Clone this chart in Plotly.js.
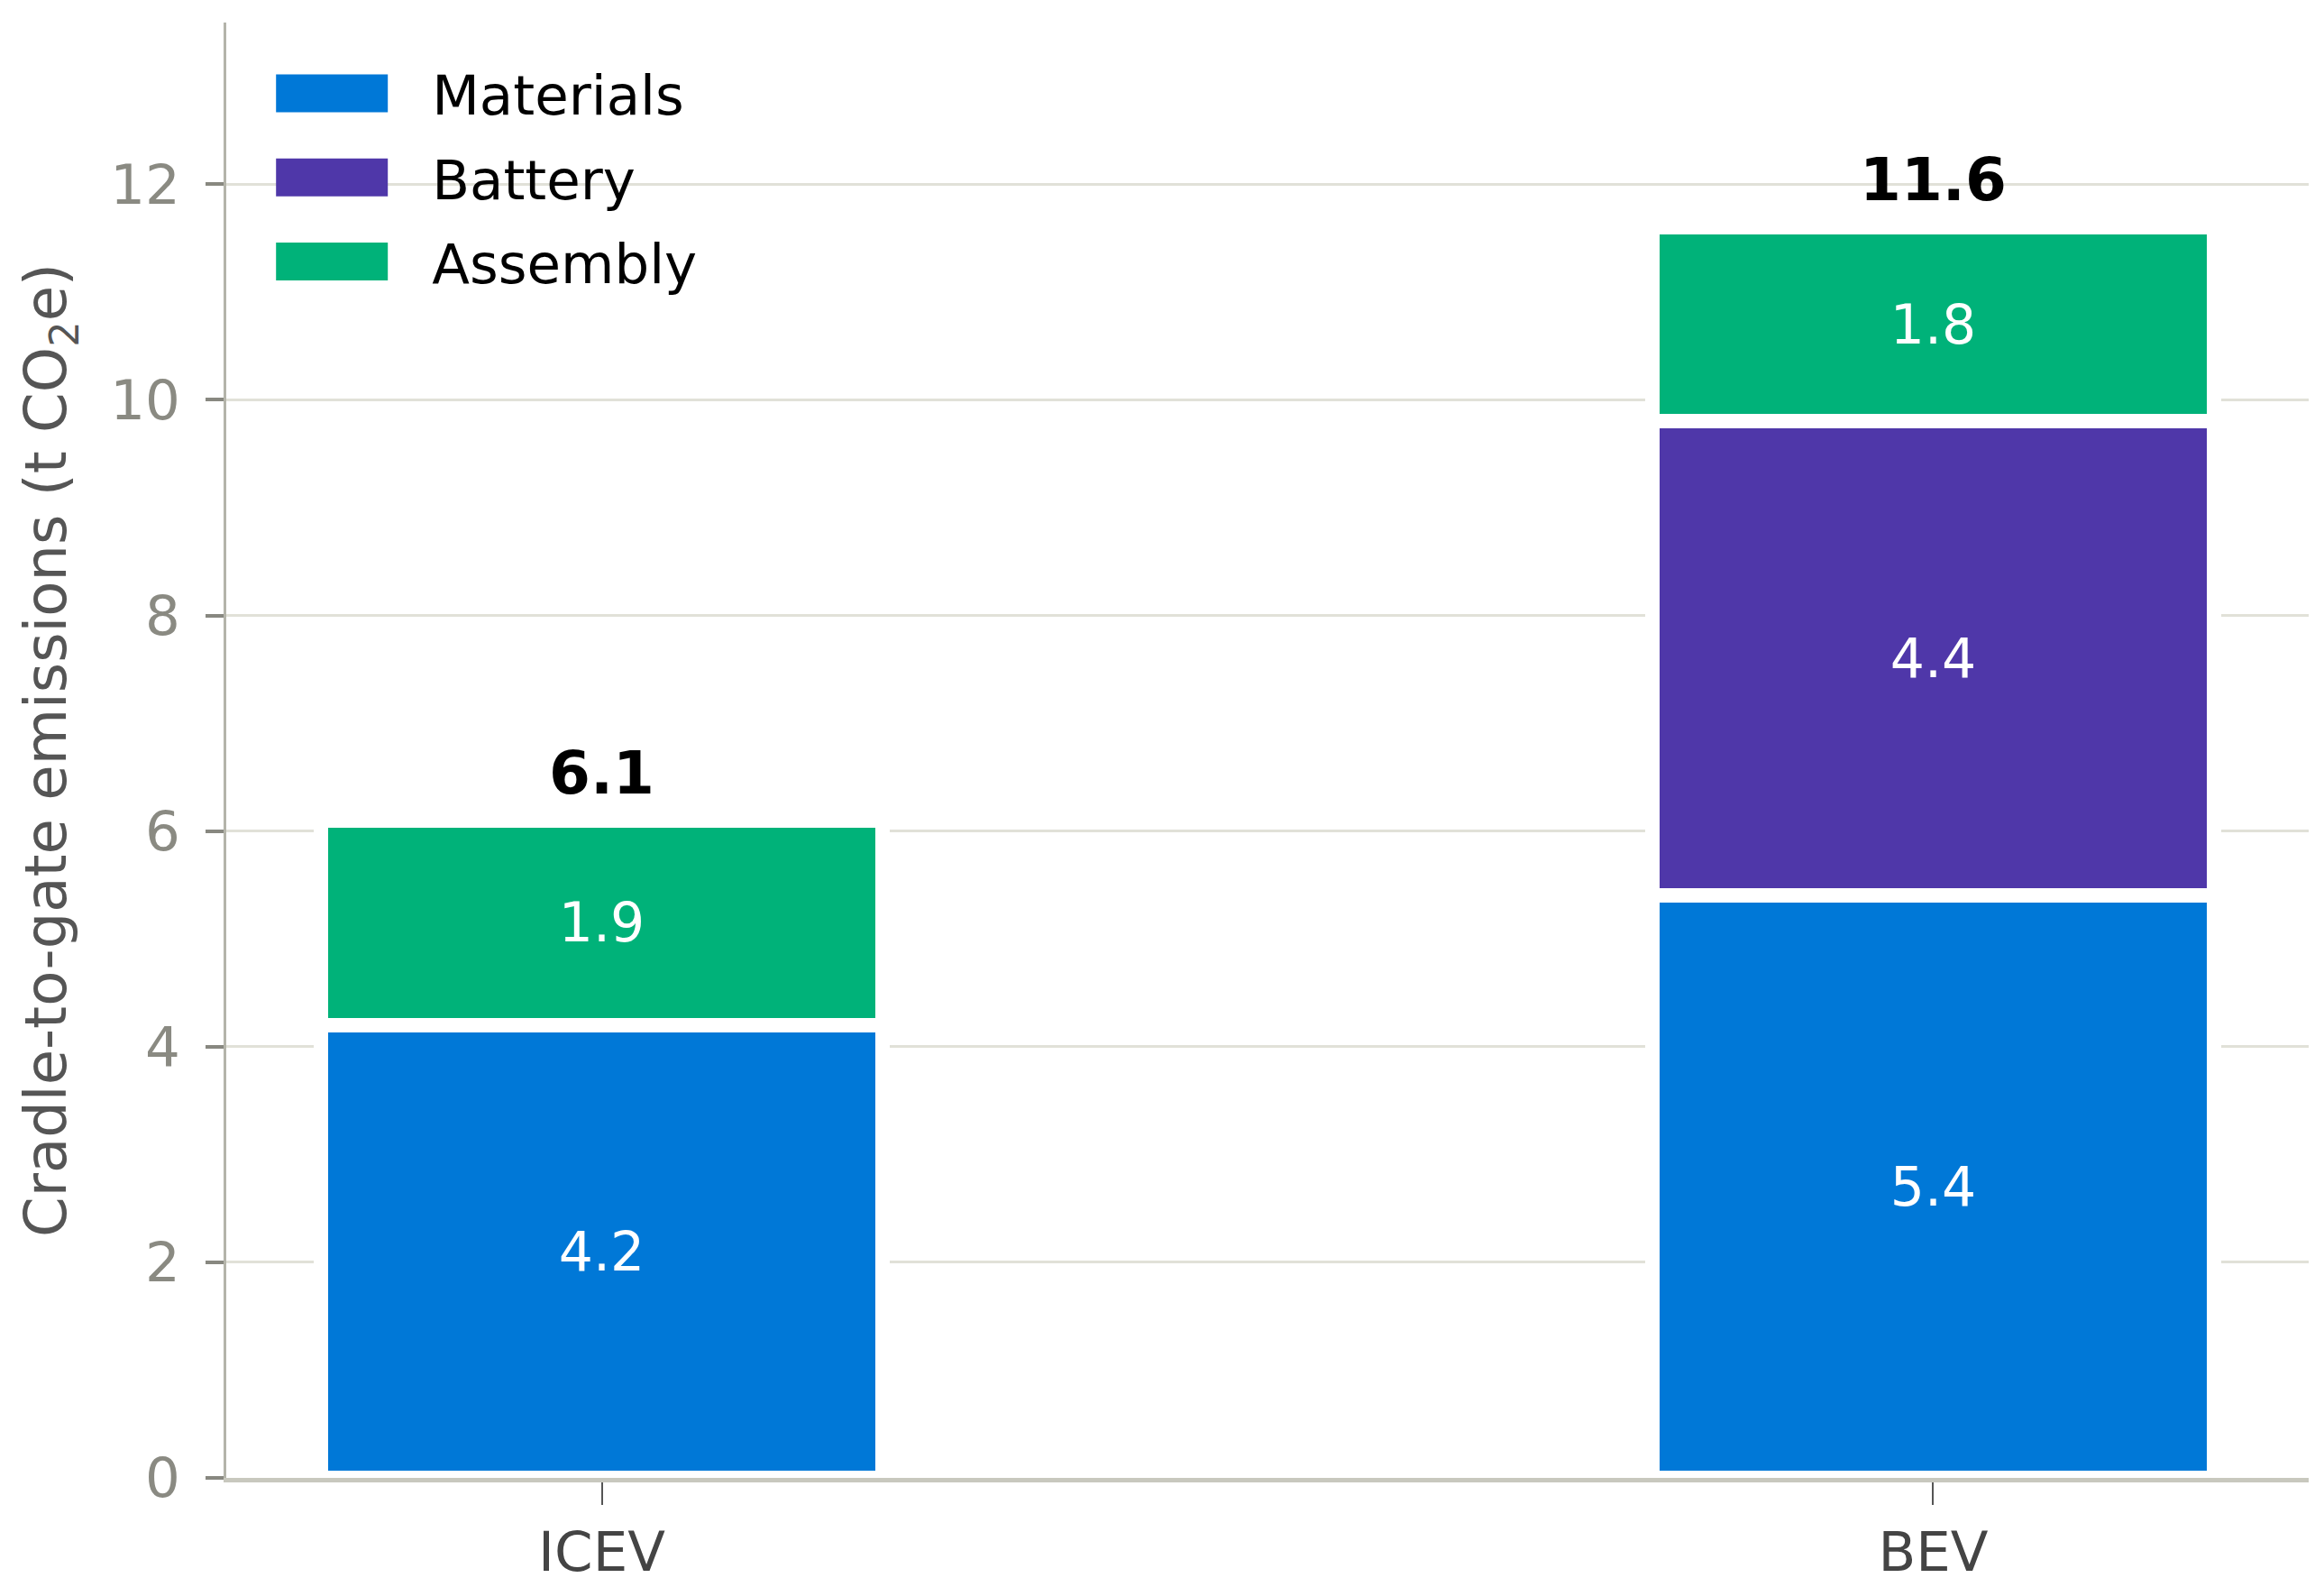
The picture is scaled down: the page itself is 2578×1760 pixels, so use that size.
<!DOCTYPE html>
<html>
<head>
<meta charset="utf-8">
<script src="https://cdn.plot.ly/plotly-3.0.1.min.js"></script>
<style>
  html, body { margin: 0; padding: 0; background: #fff; }
  #chart { width: 2578px; height: 1760px; }
</style>
</head>
<body>
<div id="chart"></div>
<script>
// vehicles on the x axis
var vehicles = ["ICEV", "BEV"];

// cradle-to-gate emissions, t CO2e
var materials = [4.2, 5.4];
var battery = [null, 4.4];
var assembly = [1.9, 1.8];

var seriesNames = ["Materials", "Battery", "Assembly"];
var seriesColors = ["#0078d7", "#4f37a9", "#00b279"];

var yTicks = [0, 2, 4, 6, 8, 10, 12];

var totals = vehicles.map(function (v, i) {
  return (materials[i] || 0) + (battery[i] || 0) + (assembly[i] || 0);
});

function makeBar(name, values, col) {
  return {
    x: vehicles,
    y: values,
    name: name,
    legendgroup: name,
    type: 'bar',
    width: 0.422,
    marker: {color: col, line: {color: '#ffffff', width: 16}},
    texttemplate: '%{y:.1f}',
    textposition: 'inside',
    insidetextanchor: 'middle',
    textfont: {family: 'DejaVu Sans', size: 60, color: '#ffffff'},
    constraintext: 'none',
    hoverinfo: 'skip'
  };
}

var data = [
  makeBar(seriesNames[0], materials, seriesColors[0]),
  makeBar(seriesNames[1], battery, seriesColors[1]),
  makeBar(seriesNames[2], assembly, seriesColors[2])
];

var annotations = vehicles.map(function (v, i) {
  return {
    x: v,
    y: totals[i],
    xref: 'x',
    yref: 'y',
    text: '<b>' + totals[i].toFixed(1) + '</b>',
    showarrow: false,
    yanchor: 'bottom',
    yshift: 12,
    font: {family: 'DejaVu Sans', size: 66, color: '#000000'}
  };
});

var layout = {
  width: 2578,
  height: 1760,
  barmode: 'stack',
  paper_bgcolor: '#ffffff',
  plot_bgcolor: '#ffffff',
  font: {family: 'DejaVu Sans'},
  margin: {l: 251, r: 17, t: 25, b: 121},
  showlegend: true,
  legend: {
    x: 0.02,
    y: 0.98,
    xanchor: 'left',
    yanchor: 'top',
    traceorder: 'grouped',
    tracegroupgap: 11,
    itemwidth: 172,
    bgcolor: 'rgba(0,0,0,0)',
    font: {family: 'DejaVu Sans', size: 61, color: '#000000'}
  },
  xaxis: {
    type: 'category',
    range: [-0.282, 1.282],
    showgrid: false,
    showline: true,
    linecolor: '#c8c8be',
    linewidth: 5,
    ticks: 'outside',
    ticklen: 25,
    tickwidth: 2,
    tickcolor: '#555555',
    tickfont: {family: 'DejaVu Sans', size: 61, color: '#444444'},
    zeroline: false
  },
  yaxis: {
    range: [0, 13.5],
    tickvals: yTicks,
    showgrid: true,
    gridcolor: '#e1e1d8',
    gridwidth: 3,
    showline: true,
    linecolor: '#b4b4aa',
    linewidth: 3,
    ticks: 'outside',
    ticklen: 20,
    tickwidth: 4,
    tickcolor: '#888880',
    ticklabelstandoff: 16,
    tickfont: {family: 'DejaVu Sans', size: 61, color: '#8a8a82'},
    zeroline: false,
    title: {
      text: 'Cradle-to-gate emissions (t CO<sub>2</sub>e)',
      font: {family: 'DejaVu Sans', size: 64, color: '#555555'},
      standoff: 28
    }
  },
  annotations: annotations
};

var config = {displayModeBar: false, responsive: false, staticPlot: true};

Plotly.newPlot('chart', data, layout, config).then(function () {
  // wider legend swatches, like the colour patches in the original
  document.querySelectorAll('.legend .legendpoints path').forEach(function (p) {
    p.setAttribute('d', 'M-82,-21H42V21H-82Z');
    p.style.strokeWidth = '0px';
  });
});
</script>
</body>
</html>
